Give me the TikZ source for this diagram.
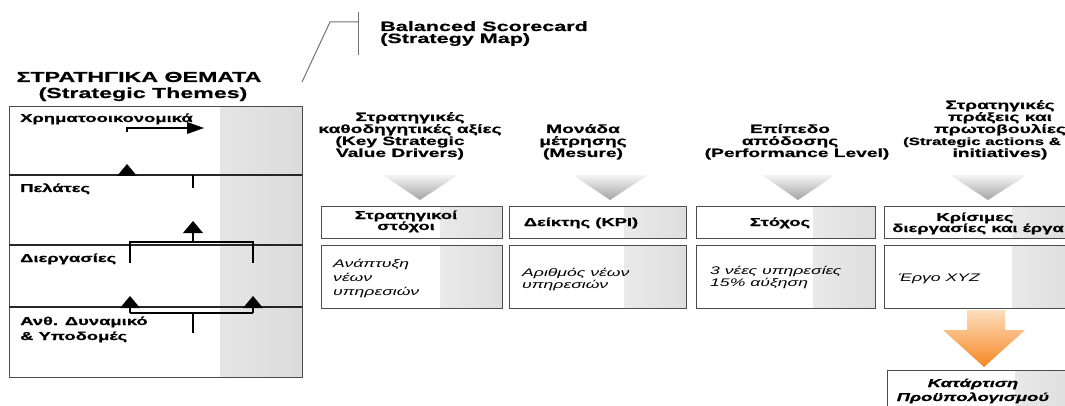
\documentclass[tikz,border=0pt]{standalone}
\usepackage{fontspec}
\setmainfont{Liberation Sans}[FakeStretch=1.6, BoldFeatures={FakeBold=0.7}, BoldItalicFeatures={FakeBold=0.7}]
\usetikzlibrary{arrows.meta}
\definecolor{orangeL}{RGB}{253,222,190}
\definecolor{orangeD}{RGB}{245,135,35}
\newcommand\uptri[2]{\fill (#1-10,#2) -- (#1+10,#2) -- (#1,#2-12) -- cycle;}
\begin{document}
\begin{tikzpicture}[x=1pt,y=-1pt,
  every node/.style={inner sep=0pt},
  ttl/.style={font=\bfseries\fontsize{14.5}{16}\selectfont, anchor=base},
  hd/.style={font=\bfseries\fontsize{12}{13}\selectfont, anchor=base},
  lb/.style={font=\bfseries\fontsize{11.5}{13}\selectfont, anchor=base west},
  bt/.style={font=\bfseries\fontsize{11.5}{13}\selectfont, anchor=base},
  it/.style={font=\itshape\fontsize{11}{13}\selectfont, anchor=base west},
  bi/.style={font=\bfseries\itshape\fontsize{11.5}{13}\selectfont, anchor=base},
  ln/.style={draw=black!85, line width=1.1pt},
  cn/.style={draw=black, line width=1.1pt},
  bx/.style={draw=black!70, line width=1.2pt, fill=white, anchor=north west,
    path picture={\shade[left color=white, right color=gray!26]
      ([xshift=-62pt]path picture bounding box.north east) rectangle (path picture bounding box.south east);}},
  gtri/.style={top color=gray!8, bottom color=gray!72},
  lead/.style={draw=black!55, line width=1pt}
]
\clip (0,0) rectangle (1065,406);
\fill[white] (0,0) rectangle (1065,406);

% ---- titles
\node[ttl] (t1) at (139,82) {ΣΤΡΑΤΗΓΙΚΑ ΘΕΜΑΤΑ};
\node[ttl] (t2) at (143,98) {(Strategic Themes)};
\node[font=\bfseries\fontsize{13.5}{15}\selectfont, anchor=base west] (bs1) at (380,31) {Balanced Scorecard};
\node[font=\bfseries\fontsize{13.5}{15}\selectfont, anchor=base west] (bs2) at (380,43) {(Strategy Map)};
\coordinate (la) at (302,82);
\coordinate (lb) at (330,22);
\coordinate (lc) at (358,22);
\coordinate (ld) at (358,12);
\coordinate (le) at (358,55);
\draw[lead] (la) -- (lb) -- (lc);
\draw[lead] (ld) -- (le);

% ---- left panel
\node[bx, minimum width=293pt, minimum height=271pt,
  path picture={\shade[left color=white, right color=gray!28]
      ([xshift=-82pt]path picture bounding box.north east) rectangle (path picture bounding box.south east);}] (panel) at (9,106) {};
\draw[ln] (9,175) -- (302,175);
\draw[ln] (9,245) -- (302,245);
\draw[ln] (9,307) -- (302,307);

\node[lb] (fin) at (20,122) {Χρηματοοικονομικά};
\node[lb] (cus) at (20,192) {Πελάτες};
\node[lb] (pro) at (20,262) {Διεργασίες};
\node[lb] (hr1) at (20,325) {Ανθ. Δυναμικό};
\node[lb] (hr2) at (20,340) {\& Υποδομές};

% connectors in the panel
\draw[cn] (127,132) -- (127,128) -- (190,128);
\fill (187,122) -- (204,128) -- (187,134) -- cycle;
\uptri{127}{176}
\draw[cn] (193,175) -- (193,188);
\draw[cn] (130,263) -- (130,242) -- (253,242) -- (253,263);
\draw[cn] (193,242) -- (193,230);
\uptri{193}{233}
\draw[cn] (130,313) -- (253,313);
\draw[cn] (130,313) -- (130,305);
\draw[cn] (253,313) -- (253,305);
\uptri{130}{308}
\uptri{253}{308}
\draw[cn] (193,313) -- (193,333);

% ---- column headers
\node[hd] (h1a) at (410,121) {Στρατηγικές};
\node[hd] (h1b) at (410,133) {καθοδηγητικές αξίες};
\node[hd] (h1c) at (400,145) {(Key Strategic};
\node[hd] (h1d) at (400,157) {Value Drivers)};

\node[hd] (h2a) at (583,133) {Μονάδα};
\node[hd] (h2b) at (583,145) {μέτρησης};
\node[hd] (h2c) at (583,157) {(Mesure)};

\node[hd] (h3a) at (790,133) {Επίπεδο};
\node[hd] (h3b) at (790,145) {απόδοσης};
\node[hd] (h3c) at (797,157) {(Performance Level)};

\node[hd] (h4a) at (1000,109) {Στρατηγικές};
\node[hd] (h4b) at (1000,121) {πράξεις και};
\node[hd] (h4c) at (1000,133) {πρωτοβουλίες};
\node[hd, font=\bfseries\fontsize{10.5}{13}\selectfont] (h4d) at (982,145) {(Strategic actions \&};
\node[hd] (h4e) at (1000,157) {initiatives)};

% gray down triangles
\shade[gtri] (383,175) -- (458,175) -- (420,200) -- cycle;
\shade[gtri] (573,175) -- (648,175) -- (610,200) -- cycle;
\shade[gtri] (762,175) -- (835,175) -- (798,200) -- cycle;
\shade[gtri] (950,175) -- (1027,175) -- (988,200) -- cycle;

% ---- row 1 boxes
\node[bx, minimum width=181pt, minimum height=32pt] (b11) at (321,206) {};
\node[bx, minimum width=177pt, minimum height=32pt] (b12) at (509,206) {};
\node[bx, minimum width=179pt, minimum height=32pt] (b13) at (696,206) {};
\node[bx, minimum width=190pt, minimum height=32pt] (b14) at (884,206) {};

\node[bt] (s1a) at (406,219) {Στρατηγικοί};
\node[bt] (s1b) at (406,230) {στόχοι};
\node[bt] (s2) at (581,226) {Δείκτης (KPI)};
\node[bt] (s3) at (780,226) {Στόχος};
\node[bt] (s4a) at (975,221) {Κρίσιμες};
\node[bt] (s4b) at (978,232) {διεργασίες και έργα};

% ---- row 2 boxes
\node[bx, minimum width=181pt, minimum height=63pt] (b21) at (321,245) {};
\node[bx, minimum width=177pt, minimum height=63pt] (b22) at (509,245) {};
\node[bx, minimum width=179pt, minimum height=63pt] (b23) at (696,245) {};
\node[bx, minimum width=190pt, minimum height=63pt] (b24) at (884,245) {};

\node[it] (r1a) at (333,267) {Ανάπτυξη};
\node[it] (r1b) at (333,281) {νέων};
\node[it] (r1c) at (333,295) {υπηρεσιών};
\node[it] (r2a) at (522,276) {Αριθμός νέων};
\node[it] (r2b) at (522,288) {υπηρεσιών};
\node[it] (r3a) at (710,274) {3 νέες υπηρεσίες};
\node[it] (r3b) at (710,286) {15\% αύξηση};
\node[it] (r4) at (898,281) {Έργο XYZ};

% ---- orange arrow
\shade[top color=orangeL, bottom color=orangeD]
  (967,310) -- (1005,310) -- (1005,330) -- (1025,330) -- (984,367)
  -- (943,330) -- (967,330) -- cycle;

% ---- last box
\node[bx, minimum width=190pt, minimum height=50pt] (b3) at (887,370) {};
\node[bi] (k1) at (973,387) {Κατάρτιση};
\node[bi] (k2) at (973,401) {Προϋπολογισμού};
\end{tikzpicture}
\end{document}
